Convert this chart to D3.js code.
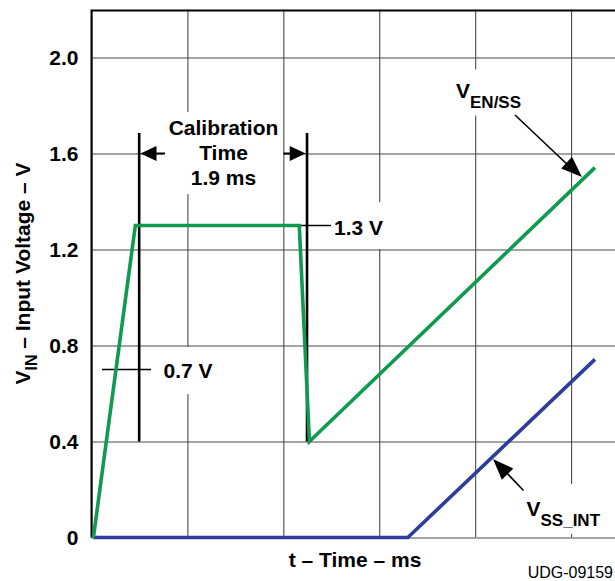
<!DOCTYPE html>
<html><head><meta charset="utf-8">
<script src="https://cdn.jsdelivr.net/npm/d3@7"></script>
<style>
html,body{margin:0;padding:0;background:#fff;}
svg{display:block;font-family:"Liberation Sans",Arial,Helvetica,sans-serif;font-weight:bold;}
</style></head>
<body>
<svg id="chart" width="615" height="581"></svg>
<script>
// ---- data ----
const xGridTicks = [0, 1, 2, 3, 4, 5, 6];            // time divisions
const yTicks = [0, 0.4, 0.8, 1.2, 1.6, 2.0];
const yTickLabels = ["0", "0.4", "0.8", "1.2", "1.6", "2.0"];
const enssTime = [0.02, 0.457, 2.166, 2.272, 5.249];
const enssVolt = [0, 1.3, 1.3, 0.4, 1.541];
const ssintTime = [0.02, 3.298, 5.249];
const ssintVolt = [0, 0, 0.742];
const calStart = 0.497, calEnd = 2.247;               // calibration markers
const calLow = 0.4, calHigh = 1.685, calArrowV = 1.6;

const svg = d3.select("#chart");
const L = 91.5, T = 9.5, B = 537.5, R = 667;
const x = d3.scaleLinear().domain([0, 6]).range([L, R]);
const y = d3.scaleLinear().domain([0, 2.2]).range([B, T]);

const GRID = "#4a4a4a";
// vertical grid
const gx = svg.append("g").attr("transform", `translate(0,${B})`)
  .call(d3.axisBottom(x).tickValues(xGridTicks).tickSize(-(B - T)).tickFormat(""));
gx.select(".domain").remove();
gx.selectAll("line").attr("stroke", GRID).attr("stroke-width", 1.1);
// horizontal grid
const gy = svg.append("g").attr("transform", `translate(${L},0)`)
  .call(d3.axisLeft(y).tickValues(yTicks).tickSize(-(R - L)).tickFormat(""));
gy.select(".domain").remove();
gy.selectAll("line").attr("stroke", GRID).attr("stroke-width", 1.1);

// white label backgrounds (break grid lines)
const boxes = [
  [163, 112, 120, 82],   // Calibration Time
  [333, 202, 61, 47],    // 1.3 V
  [163, 347, 72, 47],    // 0.7 V
  [452, 69.5, 74, 46],   // V EN/SS
  [524, 484, 82, 50]     // V SS_INT
];
svg.append("g").selectAll("rect").data(boxes).join("rect")
  .attr("x", d => d[0]).attr("y", d => d[1]).attr("width", d => d[2]).attr("height", d => d[3])
  .attr("fill", "#fff");

// border (top and left)
svg.append("path").attr("d", `M${L},${B}V${T + 1}H${R}`)
  .attr("fill", "none").attr("stroke", "#000").attr("stroke-width", 2);

// y tick labels
const ya = svg.append("g").attr("transform", `translate(${L},0)`)
  .call(d3.axisLeft(y).tickValues(yTicks).tickSize(0).tickPadding(13)
    .tickFormat((d, i) => yTickLabels[i]));
ya.select(".domain").remove();
ya.selectAll("text").attr("font-size", 21).attr("font-weight", "bold")
  .attr("font-family", "Liberation Sans, Arial, sans-serif").attr("fill", "#000");

// calibration marker lines
svg.append("g").selectAll("line").data([calStart, calEnd]).join("line")
  .attr("x1", d => x(d)).attr("x2", d => x(d))
  .attr("y1", y(calHigh)).attr("y2", y(calLow))
  .attr("stroke", "#000").attr("stroke-width", 2.6);

// calibration arrows
function arrowHead(tipX, tipY, dx, dy, len, half) {
  const n = Math.hypot(dx, dy), ux = dx / n, uy = dy / n;
  const bx = tipX - ux * len, by = tipY - uy * len;
  return `M${tipX},${tipY}L${bx - uy * half},${by + ux * half}L${bx + uy * half},${by - ux * half}Z`;
}
const ay = y(calArrowV);
const x0 = x(calStart), x1 = x(calEnd);
svg.append("line").attr("x1", x0 + 10).attr("x2", 165).attr("y1", ay).attr("y2", ay)
  .attr("stroke", "#000").attr("stroke-width", 2);
svg.append("line").attr("x1", 283.5).attr("x2", x1 - 10).attr("y1", ay).attr("y2", ay)
  .attr("stroke", "#000").attr("stroke-width", 2);
svg.append("path").attr("d", arrowHead(x0 + 1.3, ay, -1, 0, 16, 7.5)).attr("fill", "#000");
svg.append("path").attr("d", arrowHead(x1 - 1.3, ay, 1, 0, 16, 7.5)).attr("fill", "#000");

// level leader lines
svg.append("line").attr("x1", x(2.166)).attr("x2", 331).attr("y1", y(1.3)).attr("y2", y(1.3))
  .attr("stroke", "#000").attr("stroke-width", 1.5);
svg.append("line").attr("x1", 102).attr("x2", 151).attr("y1", y(0.7)).attr("y2", y(0.7))
  .attr("stroke", "#000").attr("stroke-width", 1.5);

// series lines
const line = d3.line().x(d => x(d[0])).y(d => y(d[1]));
svg.append("path").datum(ssintTime.map((t, i) => [t, ssintVolt[i]]))
  .attr("d", line).attr("fill", "none").attr("stroke", "#2e3c9c").attr("stroke-width", 3.6)
  .attr("stroke-linejoin", "miter");
svg.append("path").datum(enssTime.map((t, i) => [t, enssVolt[i]]))
  .attr("d", line).attr("fill", "none").attr("stroke", "#0e9b4f").attr("stroke-width", 3.6)
  .attr("stroke-linejoin", "miter");

// label arrows
svg.append("line").attr("x1", 515).attr("y1", 115).attr("x2", 570).attr("y2", 167)
  .attr("stroke", "#000").attr("stroke-width", 1.6);
svg.append("path").attr("d", arrowHead(582, 177, 67, 62, 21, 8)).attr("fill", "#000");
svg.append("line").attr("x1", 523.5).attr("y1", 490.5).attr("x2", 503).attr("y2", 469)
  .attr("stroke", "#000").attr("stroke-width", 1.6);
svg.append("path").attr("d", arrowHead(493, 459, -30, -31, 21, 8)).attr("fill", "#000");

// texts
const txt = (xx, yy, s, size, anchor) => svg.append("text").attr("x", xx).attr("y", yy)
  .attr("font-size", size || 21).attr("text-anchor", anchor || "start").attr("fill", "#000").text(s);
txt(223.5, 135, "Calibration", 21, "middle");
txt(223.5, 160, "Time", 21, "middle");
txt(223.5, 185, "1.9 ms", 21, "middle");
txt(334, 235, "1.3 V", 21);
txt(163.5, 377.5, "0.7 V", 21);

const ven = svg.append("text").attr("x", 456).attr("y", 98).attr("font-size", 21).attr("fill", "#000");
ven.append("tspan").text("V");
ven.append("tspan").attr("dy", 10).attr("font-size", 17).text("EN/SS");
const vss = svg.append("text").attr("x", 526.5).attr("y", 515.5).attr("font-size", 21).attr("fill", "#000");
vss.append("tspan").text("V");
vss.append("tspan").attr("dy", 10).attr("font-size", 17).text("SS_INT");

txt(355, 567, "t – Time – ms", 21, "middle");
svg.append("text").attr("x", 613).attr("y", 578).attr("font-size", 16).attr("font-weight", "normal")
  .attr("text-anchor", "end").attr("fill", "#000").text("UDG-09159");

const yt = svg.append("text").attr("transform", `translate(30,${(T + B) / 2}) rotate(-90)`)
  .attr("text-anchor", "middle").attr("font-size", 21).attr("fill", "#000");
yt.append("tspan").text("V");
yt.append("tspan").attr("dy", 7).attr("font-size", 16).text("IN");
yt.append("tspan").attr("dy", -7).text(" – Input Voltage – V");
</script>
</body></html>
